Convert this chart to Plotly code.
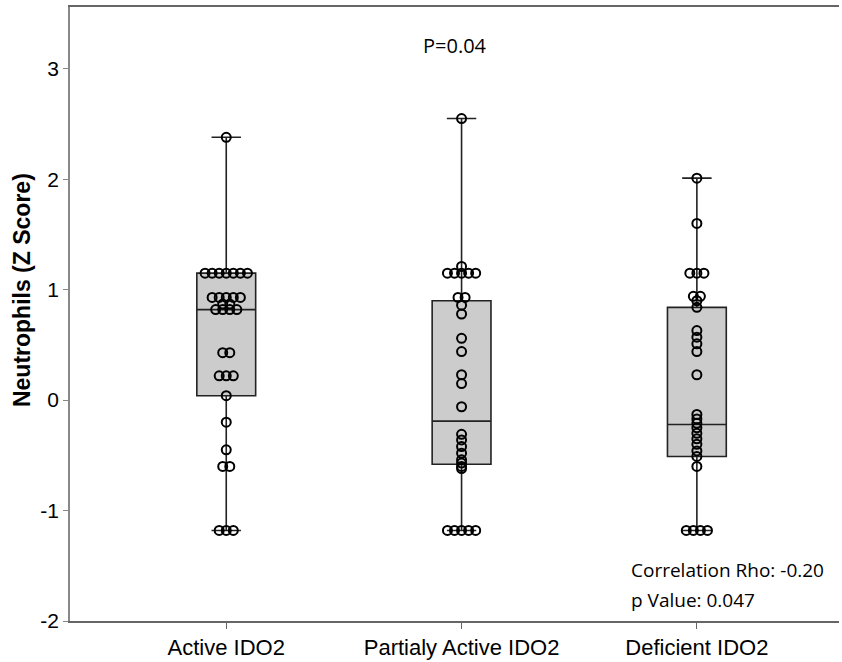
import plotly.graph_objects as go

categories = ["Active IDO2", "Partialy Active IDO2", "Deficient IDO2"]

active_vals = [2.38, 1.15, 1.15, 1.15, 1.15, 1.15, 1.15, 1.15,
               0.93, 0.93, 0.93, 0.93, 0.93, 0.87, 0.87,
               0.82, 0.82, 0.82, 0.82, 0.43, 0.43, 0.22, 0.22, 0.22,
               0.04, -0.20, -0.45, -0.60, -0.60, -1.18, -1.18, -1.18]
partial_vals = [2.55, 1.21, 1.15, 1.15, 1.15, 1.15, 1.15, 0.93, 0.93,
                0.86, 0.78, 0.56, 0.44, 0.23, 0.15, -0.06,
                -0.31, -0.36, -0.42, -0.48, -0.54, -0.57, -0.60, -0.62,
                -1.18, -1.18, -1.18, -1.18, -1.18]
deficient_vals = [2.01, 1.60, 1.15, 1.15, 1.15, 0.94, 0.94, 0.90, 0.84,
                  0.63, 0.57, 0.51, 0.44, 0.23, -0.13, -0.17, -0.21,
                  -0.25, -0.30, -0.35, -0.40, -0.46, -0.51, -0.60,
                  -1.18, -1.18, -1.18, -1.18]

q1 = [0.04, -0.58, -0.51]
median = [0.82, -0.19, -0.22]
q3 = [1.15, 0.90, 0.84]
lowerfence = [-1.18, -1.18, -1.18]
upperfence = [2.38, 2.55, 2.01]

y_ticks = [-2, -1, 0, 1, 2, 3]

fig = go.Figure()

fig.add_trace(go.Box(
    x=[0, 1, 2], q1=q1, median=median, q3=q3,
    lowerfence=lowerfence, upperfence=upperfence,
    width=0.25, whiskerwidth=0.5,
    fillcolor="#cccccc", line=dict(color="#222222", width=1.6),
    boxpoints=False, showlegend=False, hoverinfo="skip"))

def swarm(vals, center, step=0.03):
    xs, ys = [], []
    groups = {}
    for v in vals:
        groups.setdefault(v, 0)
        groups[v] += 1
    for v, k in groups.items():
        for i in range(k):
            xs.append(center + (i - (k - 1) / 2) * step)
            ys.append(v)
    return xs, ys

for i, vals in enumerate([active_vals, partial_vals, deficient_vals]):
    xs, ys = swarm(vals, i)
    fig.add_trace(go.Scatter(
        x=xs, y=ys, mode="markers",
        marker=dict(symbol="circle-open", size=9, color="black",
                    line=dict(width=2, color="black")),
        showlegend=False, hoverinfo="skip"))

fig.update_layout(
    width=842, height=662,
    margin=dict(l=70, r=3, t=7, b=41),
    plot_bgcolor="white", paper_bgcolor="white",
    font=dict(family="Liberation Sans, Arial, sans-serif", color="black"),
    xaxis=dict(
        range=[-0.664, 2.604], tickmode="array", tickvals=[0, 1, 2],
        ticktext=categories, tickfont=dict(size=22),
        showline=True, linecolor="#666666", linewidth=1.5, mirror=True,
        ticks="outside", ticklen=6, tickcolor="#666666", showgrid=False,
        zeroline=False),
    yaxis=dict(
        range=[-2, 3.56], tickmode="array", tickvals=y_ticks,
        ticktext=[str(t) for t in y_ticks], tickfont=dict(size=21),
        showline=True, linecolor="#888888", linewidth=1.5,
        ticks="outside", ticklen=5, tickcolor="#888888", showgrid=False,
        zeroline=False),
    annotations=[
        dict(text="<b>Neutrophils (Z Score)</b>", textangle=-90,
             x=0, xref="paper", xshift=-48, xanchor="center",
             y=0.539, yref="paper", yanchor="middle", showarrow=False,
             font=dict(family="Liberation Sans, Arial, sans-serif", size=23)),
        dict(text="P=0.04", x=0.5, xref="paper", y=0.937, yref="paper",
             xanchor="center", yanchor="middle", showarrow=False,
             font=dict(family="Open Sans, Noto Sans, sans-serif", size=20)),
        dict(text="Correlation Rho: -0.20", x=0.727, xref="paper", y=0.083, yref="paper",
             xanchor="left", yanchor="middle", showarrow=False,
             font=dict(family="Open Sans, Noto Sans, sans-serif", size=19)),
        dict(text="p Value: 0.047", x=0.727, xref="paper", y=0.035, yref="paper",
             xanchor="left", yanchor="middle", showarrow=False,
             font=dict(family="Open Sans, Noto Sans, sans-serif", size=19)),
    ],
)

fig.write_html("out.html")
